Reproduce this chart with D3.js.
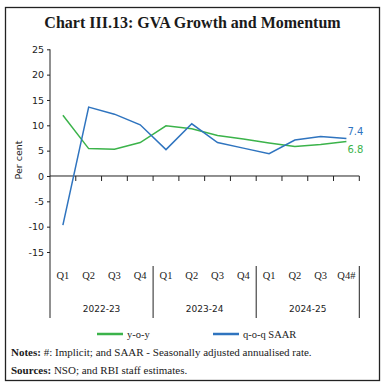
<!DOCTYPE html>
<html>
<head>
<meta charset="utf-8">
<script src="https://cdn.jsdelivr.net/npm/d3@7"></script>
<style>
  body { margin: 0; background: #fff; }
  svg { display: block; }
</style>
</head>
<body>
<script>
"use strict";

// donnees
var quarters = ["Q1", "Q2", "Q3", "Q4", "Q1", "Q2", "Q3", "Q4", "Q1", "Q2", "Q3", "Q4#"];
var years = ["2022-23", "2023-24", "2024-25"];
var yoy = [12.0, 5.4, 5.3, 6.6, 9.9, 9.3, 8.0, 7.3, 6.5, 5.8, 6.2, 6.8];
var qoqSaar = [-9.7, 13.6, 12.2, 10.1, 5.2, 10.3, 6.6, 5.5, 4.4, 7.1, 7.8, 7.4];
var yTicks = [-15, -10, -5, 0, 5, 10, 15, 20, 25];

var green = "#3bb34a";
var blue = "#2f74bf";
var serif = "'Liberation Serif', serif";
var sans = "'DejaVu Sans', sans-serif";

var W = 385, H = 387;
var svg = d3.select("body").append("svg").attr("width", W).attr("height", H);

// cadre
svg.append("rect")
  .attr("x", 5.5).attr("y", 7.5)
  .attr("width", 374).attr("height", 373)
  .attr("fill", "none").attr("stroke", "#222").attr("stroke-width", 1.3);

svg.append("text")
  .attr("x", 192.5).attr("y", 28)
  .attr("text-anchor", "middle")
  .attr("font-family", serif).attr("font-weight", "bold")
  .attr("font-size", 16).attr("fill", "#1a1a1a")
  .text("Chart III.13: GVA Growth and Momentum");

var x0 = 50, x1 = 359.3;
var x = d3.scaleBand().domain(d3.range(quarters.length)).range([x0, x1]);
var y = d3.scaleLinear().domain([-15, 25]).range([252, 49.3]);

// axe Y
var yAxis = svg.append("g")
  .attr("transform", "translate(" + x0 + ",0)")
  .call(d3.axisLeft(y).tickValues(yTicks).tickSize(3).tickPadding(3)
    .tickFormat(function(d) { return String(d); }));
yAxis.select(".domain").remove();
yAxis.selectAll("line").attr("stroke", "#222");
yAxis.selectAll("text").attr("font-family", sans).attr("font-size", 9.5).attr("fill", "#222");

svg.append("line")
  .attr("x1", x0).attr("x2", x0)
  .attr("y1", y(25)).attr("y2", 318)
  .attr("stroke", "#222");

svg.append("text")
  .attr("transform", "translate(22," + 160 + ") rotate(-90)")
  .attr("text-anchor", "middle")
  .attr("font-family", sans).attr("font-size", 9.5).attr("fill", "#222")
  .text("Per cent");

// axe X au niveau zero
svg.append("line")
  .attr("x1", x0).attr("x2", x1)
  .attr("y1", y(0)).attr("y2", y(0))
  .attr("stroke", "#222");
svg.selectAll(".xtick")
  .data(d3.range(1, quarters.length + 1))
  .enter().append("line")
  .attr("x1", function(i) { return x0 + i * x.step(); })
  .attr("x2", function(i) { return x0 + i * x.step(); })
  .attr("y1", y(0)).attr("y2", y(0) + 5)
  .attr("stroke", "#222");

svg.selectAll(".qlab")
  .data(quarters)
  .enter().append("text")
  .attr("x", function(d, i) { return x(i) + x.bandwidth() / 2; })
  .attr("y", 279)
  .attr("text-anchor", "middle")
  .attr("font-family", serif).attr("font-size", 10.5).attr("fill", "#222")
  .text(function(d) { return d; });

// separateurs des annees
svg.selectAll(".sep")
  .data([4, 8, 12])
  .enter().append("line")
  .attr("x1", function(i) { return x0 + i * x.step(); })
  .attr("x2", function(i) { return x0 + i * x.step(); })
  .attr("y1", 266).attr("y2", 318)
  .attr("stroke", "#222");

svg.selectAll(".ylab")
  .data(years)
  .enter().append("text")
  .attr("x", function(d, i) { return x0 + (i * 4 + 2) * x.step(); })
  .attr("y", 312)
  .attr("text-anchor", "middle")
  .attr("font-family", sans).attr("font-size", 9).attr("fill", "#222")
  .text(function(d) { return d; });

// lignes
var line = d3.line()
  .x(function(d, i) { return x(i) + x.bandwidth() / 2; })
  .y(function(d) { return y(d); });

svg.append("path").datum(yoy)
  .attr("d", line).attr("fill", "none")
  .attr("stroke", green).attr("stroke-width", 1.5);
svg.append("path").datum(qoqSaar)
  .attr("d", line).attr("fill", "none")
  .attr("stroke", blue).attr("stroke-width", 1.5);

var last = quarters.length - 1;
svg.append("text")
  .attr("x", x(last) + x.bandwidth() / 2 + 1).attr("y", y(qoqSaar[last]) - 3)
  .attr("font-family", sans).attr("font-size", 10).attr("fill", blue)
  .text(qoqSaar[last].toFixed(1));
svg.append("text")
  .attr("x", x(last) + x.bandwidth() / 2 + 1).attr("y", y(yoy[last]) + 11)
  .attr("font-family", sans).attr("font-size", 10).attr("fill", green)
  .text(yoy[last].toFixed(1));

// legende
var legendItems = [
  { name: "y-o-y", color: green, x: 97 },
  { name: "q-o-q SAAR", color: blue, x: 213 }
];
var legend = svg.selectAll(".leg")
  .data(legendItems)
  .enter().append("g")
  .attr("transform", function(d) { return "translate(" + d.x + ",334)"; });
legend.append("line")
  .attr("x1", 0).attr("x2", 26).attr("y1", 0).attr("y2", 0)
  .attr("stroke", function(d) { return d.color; }).attr("stroke-width", 2.5);
legend.append("text")
  .attr("x", 30).attr("y", 3.5)
  .attr("font-family", serif).attr("font-size", 10.5).attr("fill", "#222")
  .text(function(d) { return d.name; });

// notes
var notes = svg.append("text")
  .attr("x", 11).attr("y", 356)
  .attr("font-family", serif).attr("font-size", 11).attr("fill", "#1a1a1a");
notes.append("tspan").attr("font-weight", "bold").text("Notes: ");
notes.append("tspan").text("#: Implicit; and SAAR - Seasonally adjusted annualised rate.");

var sources = svg.append("text")
  .attr("x", 11).attr("y", 374)
  .attr("font-family", serif).attr("font-size", 11).attr("fill", "#1a1a1a");
sources.append("tspan").attr("font-weight", "bold").text("Sources: ");
sources.append("tspan").text("NSO; and RBI staff estimates.");
</script>
</body>
</html>
